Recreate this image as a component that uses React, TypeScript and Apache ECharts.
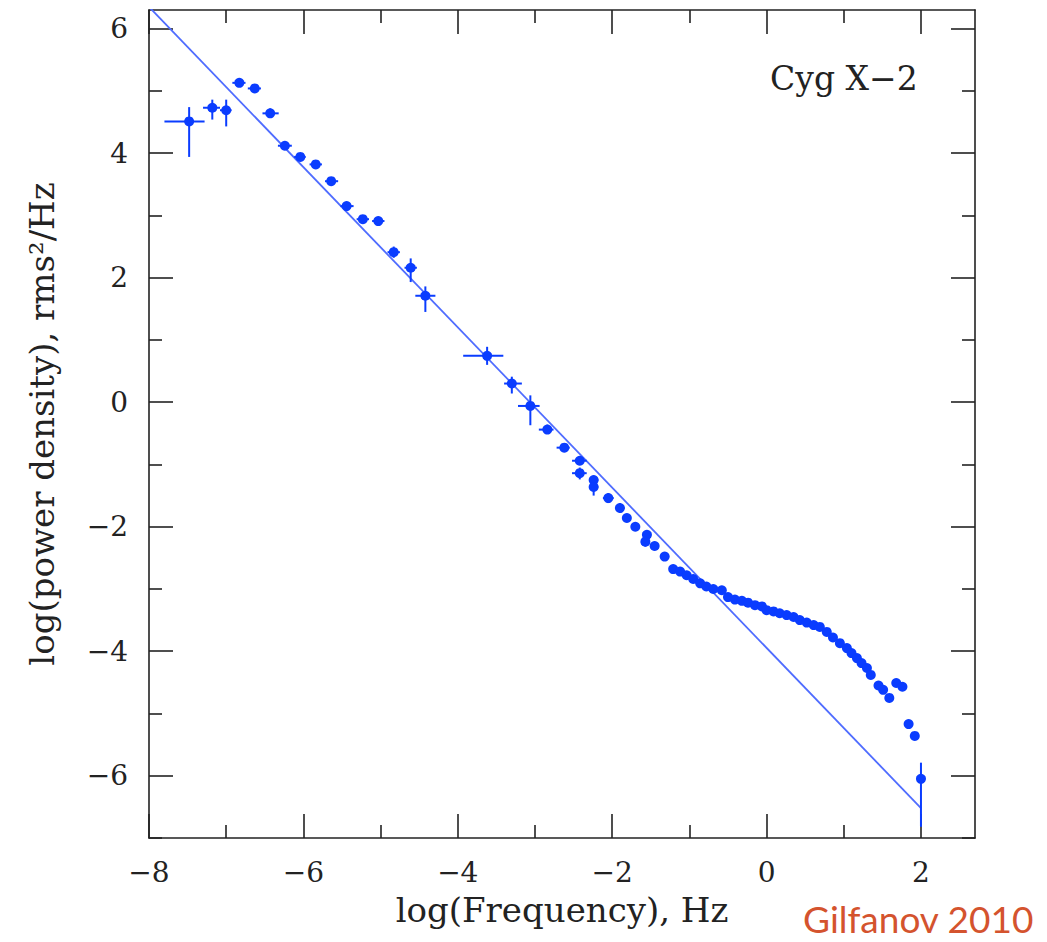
import React, { useEffect, useRef } from "react";
import * as echarts from "echarts";

// ---- data ----
const xMajorTicks = [-8, -6, -4, -2, 0, 2];
const xMinorTicks = [-7, -5, -3, -1, 1];
const yMajorTicks = [-6, -4, -2, 0, 2, 4, 6];
const yMinorTicks = [-7, -5, -3, -1, 1, 3, 5];

// power-law fit line endpoints
const fitX = [-8, 2];
const fitY = [6.35, -6.52];

// log frequency / log power density of measured points
const pointX = [
  -7.48, -7.18, -7.0, -6.83, -6.63, -6.43, -6.24, -6.04, -5.84, -5.64, -5.44, -5.23, -5.03,
  -4.83, -4.61, -4.42, -3.62, -3.3, -3.06, -2.84, -2.62, -2.42, -2.42, -2.24, -2.24, -2.05,
  -1.9, -1.81, -1.7, -1.55, -1.57, -1.45, -1.32, -1.21, -1.12, -1.035, -0.95, -0.86, -0.78,
  -0.69, -0.58, -0.5, -0.41, -0.32, -0.24, -0.15, -0.06, 0.0, 0.09, 0.17, 0.26, 0.35, 0.43,
  0.52, 0.61, 0.69, 0.78, 0.86, 0.95, 1.04, 1.1, 1.17, 1.23, 1.3, 1.35, 1.45, 1.51, 1.59,
  1.68, 1.76, 1.84, 1.92, 2.0,
];
const pointY = [
  4.51, 4.73, 4.69, 5.13, 5.04, 4.64, 4.12, 3.94, 3.82, 3.55, 3.15, 2.94, 2.91,
  2.41, 2.16, 1.71, 0.745, 0.3, -0.06, -0.44, -0.73, -0.94, -1.14, -1.25, -1.36, -1.54,
  -1.7, -1.86, -2.0, -2.13, -2.24, -2.31, -2.48, -2.68, -2.72, -2.78, -2.84, -2.91, -2.96,
  -3.0, -3.02, -3.13, -3.17, -3.19, -3.22, -3.26, -3.28, -3.34, -3.36, -3.39, -3.42, -3.45, -3.5,
  -3.54, -3.58, -3.61, -3.69, -3.78, -3.87, -3.95, -4.03, -4.11, -4.19, -4.27, -4.38, -4.55, -4.62, -4.75,
  -4.51, -4.57, -5.17, -5.36, -6.05,
];

// error bars: [x, y, xLow, xHigh, yLow, yHigh]
const errorBars = [
  [-7.48, 4.51, -7.8, -7.28, 3.94, 4.74],
  [-7.18, 4.73, -7.3, -7.08, 4.54, 4.86],
  [-7.0, 4.69, -7.08, -6.93, 4.43, 4.86],
  [-6.83, 5.13, -6.92, -6.75, 5.08, 5.18],
  [-6.63, 5.04, -6.72, -6.55, 5.0, 5.08],
  [-6.43, 4.64, -6.53, -6.32, 4.57, 4.72],
  [-6.24, 4.12, -6.33, -6.15, 4.08, 4.16],
  [-6.04, 3.94, -6.12, -5.97, 3.9, 3.98],
  [-5.84, 3.82, -5.92, -5.76, 3.78, 3.86],
  [-5.64, 3.55, -5.72, -5.55, 3.52, 3.58],
  [-5.44, 3.15, -5.52, -5.35, 3.1, 3.2],
  [-5.23, 2.94, -5.31, -5.15, 2.9, 2.98],
  [-5.03, 2.91, -5.11, -4.95, 2.88, 2.94],
  [-4.83, 2.41, -4.91, -4.75, 2.32, 2.5],
  [-4.61, 2.16, -4.69, -4.53, 1.93, 2.31],
  [-4.42, 1.71, -4.55, -4.29, 1.45, 1.86],
  [-3.62, 0.745, -3.93, -3.41, 0.6, 0.89],
  [-3.3, 0.3, -3.4, -3.17, 0.14, 0.41],
  [-3.06, -0.06, -3.22, -2.94, -0.37, 0.11],
  [-2.84, -0.44, -2.95, -2.76, -0.5, -0.36],
  [-2.62, -0.73, -2.72, -2.55, -0.8, -0.66],
  [-2.42, -0.94, -2.52, -2.33, -1.0, -0.87],
  [-2.42, -1.14, -2.52, -2.33, -1.24, -1.05],
  [-2.24, -1.25, -2.3, -2.18, -1.32, -1.18],
  [-2.24, -1.36, -2.3, -2.18, -1.5, -1.28],
  [-2.05, -1.54, -2.12, -1.98, -1.62, -1.46],
  [-1.9, -1.7, -1.96, -1.84, -1.78, -1.62],
  [-1.81, -1.86, -1.86, -1.76, -1.92, -1.8],
  [-1.57, -2.24, -1.62, -1.52, -2.32, -2.16],
  [2.0, -6.05, 2.0, 2.0, -6.82, -5.79],
];

const POINT_COLOR = "#0a3cff";
const FIT_COLOR = "#4f6cff";
const SERIF = "'DejaVu Serif', 'Liberation Serif', serif";

const fmt = (v: number) => (v < 0 ? "\u2212" + Math.abs(v) : String(v));

export default function App() {
  const ref = useRef<HTMLDivElement>(null);

  useEffect(() => {
    if (!ref.current) return;
    const chart = echarts.init(ref.current, null, { renderer: "svg" });

    const axisLine = { show: true, onZero: false, lineStyle: { color: "#222", width: 1.6 } };
    const noLine = { show: false, onZero: false };
    const tickStyle = { color: "#222", width: 1.6 };

    const xBase = { type: "value", min: -8, max: 2.7, splitLine: { show: false } };
    const yBase = { type: "value", min: -7, max: 6.3, splitLine: { show: false } };

    const xAxes = [
      {
        ...xBase,
        position: "bottom",
        axisLine,
        axisTick: { inside: true, length: 24, lineStyle: tickStyle, customValues: xMajorTicks },
        axisLabel: {
          customValues: xMajorTicks,
          formatter: fmt,
          margin: 20,
          fontFamily: SERIF,
          fontSize: 28,
          color: "#222",
        },
        name: "log(Frequency), Hz",
        nameLocation: "middle",
        nameGap: 55,
        nameTextStyle: { fontFamily: SERIF, fontSize: 34, color: "#222" },
      },
      {
        ...xBase,
        position: "bottom",
        axisLine: noLine,
        axisTick: { inside: true, length: 13, lineStyle: tickStyle, customValues: xMinorTicks },
        axisLabel: { show: false },
      },
      {
        ...xBase,
        position: "top",
        axisLine,
        axisTick: { inside: true, length: 24, lineStyle: tickStyle, customValues: xMajorTicks },
        axisLabel: { show: false },
      },
      {
        ...xBase,
        position: "top",
        axisLine: noLine,
        axisTick: { inside: true, length: 13, lineStyle: tickStyle, customValues: xMinorTicks },
        axisLabel: { show: false },
      },
    ];

    const yAxes = [
      {
        ...yBase,
        position: "left",
        axisLine,
        axisTick: { inside: true, length: 24, lineStyle: tickStyle, customValues: yMajorTicks },
        axisLabel: {
          customValues: yMajorTicks,
          formatter: fmt,
          margin: 21,
          fontFamily: SERIF,
          fontSize: 28,
          color: "#222",
        },
        name: "log(power density), rms\u00b2/Hz",
        nameLocation: "middle",
        nameGap: 90,
        nameTextStyle: { fontFamily: SERIF, fontSize: 34, color: "#222" },
      },
      {
        ...yBase,
        position: "left",
        axisLine: noLine,
        axisTick: { inside: true, length: 13, lineStyle: tickStyle, customValues: yMinorTicks },
        axisLabel: { show: false },
      },
      {
        ...yBase,
        position: "right",
        axisLine,
        axisTick: { inside: true, length: 24, lineStyle: tickStyle, customValues: yMajorTicks },
        axisLabel: { show: false },
      },
      {
        ...yBase,
        position: "right",
        axisLine: noLine,
        axisTick: { inside: true, length: 13, lineStyle: tickStyle, customValues: yMinorTicks },
        axisLabel: { show: false },
      },
    ];

    const points = pointX.map((x, i) => [x, pointY[i]]);
    const fit = fitX.map((x, i) => [x, fitY[i]]);

    chart.setOption({
      animation: false,
      backgroundColor: "#ffffff",
      grid: { left: 149, right: 72, top: 10, bottom: 104, containLabel: false },
      xAxis: xAxes,
      yAxis: yAxes,
      series: [
        {
          type: "line",
          data: fit,
          xAxisIndex: 0,
          yAxisIndex: 0,
          showSymbol: false,
          symbol: "none",
          clip: true,
          lineStyle: { color: FIT_COLOR, width: 1.8 },
          z: 2,
        },
        {
          type: "custom",
          xAxisIndex: 0,
          yAxisIndex: 0,
          clip: true,
          data: errorBars,
          encode: { x: [0, 2, 3], y: [1, 4, 5] },
          renderItem: (params: any, api: any) => {
            const x = api.value(0);
            const y = api.value(1);
            const a = api.coord([api.value(2), y]);
            const b = api.coord([api.value(3), y]);
            const c = api.coord([x, api.value(4)]);
            const d = api.coord([x, api.value(5)]);
            return {
              type: "group",
              children: [
                {
                  type: "line",
                  shape: { x1: a[0], y1: a[1], x2: b[0], y2: b[1] },
                  style: { stroke: POINT_COLOR, lineWidth: 2 },
                },
                {
                  type: "line",
                  shape: { x1: c[0], y1: c[1], x2: d[0], y2: d[1] },
                  style: { stroke: POINT_COLOR, lineWidth: 2 },
                },
              ],
            };
          },
          z: 3,
        },
        {
          type: "scatter",
          data: points,
          xAxisIndex: 0,
          yAxisIndex: 0,
          symbol: "circle",
          symbolSize: 10,
          itemStyle: { color: POINT_COLOR, opacity: 1 },
          z: 4,
        },
      ],
      graphic: [
        {
          type: "text",
          left: 770,
          top: 62,
          style: { text: "Cyg X\u22122", font: `33px ${SERIF}`, fill: "#222" },
        },
        {
          type: "text",
          left: 803,
          top: 900,
          style: { text: "Gilfanov 2010", font: `37px 'Lato', 'Open Sans', sans-serif`, fill: "#d4532e" },
        },
      ],
    });

    return () => chart.dispose();
  }, []);

  return (
    <div
      ref={ref}
      style={{ position: "fixed", left: 0, top: 0, width: 1047, height: 942, background: "#fff" }}
    />
  );
}
